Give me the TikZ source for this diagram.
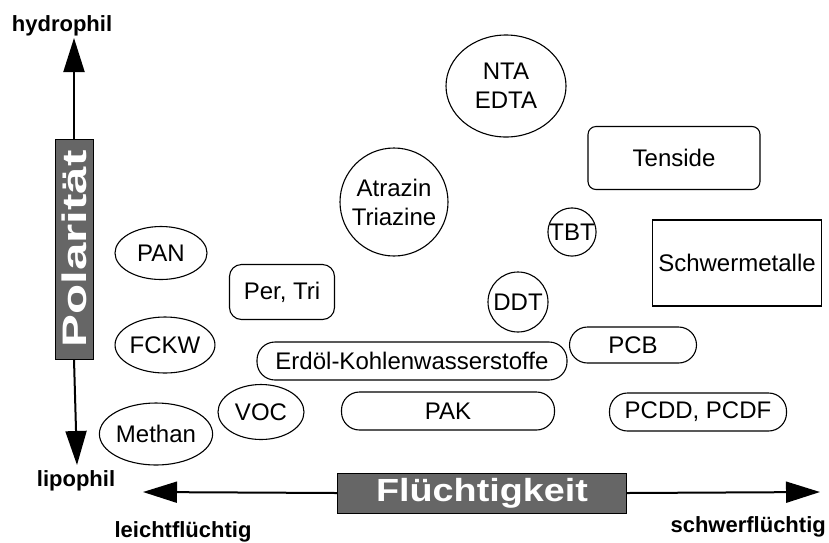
\documentclass[tikz,border=0pt]{standalone}
\usepackage{fontspec}
\setmainfont{Liberation Sans}
\usetikzlibrary{shapes.geometric, arrows.meta, positioning}
\tikzset{
        oval/.style = {draw, ellipse, line width=1.1pt, inner sep=0pt},
        pill/.style = {draw, rectangle, rounded corners=18pt, line width=1.1pt, inner sep=0pt},
        roundbox/.style = {draw, rectangle, rounded corners=12pt, line width=1.1pt, inner sep=0pt},
        plainbox/.style = {draw, rectangle, line width=1.1pt, inner sep=0pt},
        ring/.style = {draw, circle, line width=1.1pt, inner sep=0pt},
        axisbox/.style = {draw, rectangle, fill=black!60, text=white, line width=1pt, inner sep=0pt,
            font=\fontsize{32}{34}\selectfont\bfseries},
        axislabel/.style = {font=\fontsize{22}{24}\selectfont\bfseries, inner sep=0pt},
        bigarrow/.style = {draw, line width=2pt, -{Triangle[length=34pt, width=21pt]}},
}

\begin{document}
\begin{tikzpicture}[x=1pt, y=-1pt, font=\fontsize{24}{29}\selectfont]
\useasboundingbox (0,0) rectangle (829,542);
% axes
\node [axisbox, minimum width=38pt, minimum height=220pt] (polbox) at (74,249) {};
\node [rotate=90, text=white, font=\fontsize{34}{36}\selectfont\bfseries, inner sep=0pt] (poltext) at (polbox.center) {\scalebox{1.45}[1]{Polarität}};
\coordinate (ytop) at (74,38);
\coordinate (ybot) at (77,465);
\draw [bigarrow] (polbox.north) -- (ytop);
\draw [bigarrow] (polbox.south) -- (ybot);
\node [axislabel] (hydro) at (62,26) {hydrophil};
\node [axislabel] (lipo) at (76,481) {lipophil};

\node [axisbox, minimum width=289pt, minimum height=40pt] (fluebox) at (482,493) {\scalebox{1.18}[1]{Flüchtigkeit}};
\coordinate (xleft) at (143,492);
\coordinate (xright) at (820,492);
\draw [bigarrow] (fluebox.west) -- (xleft);
\draw [bigarrow] (fluebox.east) -- (xright);
\node [axislabel] (leicht) at (183,532) {leichtflüchtig};
\node [axislabel, anchor=east] (schwer) at (826,527) {schwerflüchtig};

% substances
\node [oval, minimum width=92pt, minimum height=53pt] (pan) at (161,253) {PAN};
\node [oval, minimum width=90pt, minimum height=56pt] (fckw) at (165,345) {FCKW};
\node [oval, minimum width=98pt, minimum height=62pt] (methan) at (156,434) {Methan};
\node [oval, minimum width=86pt, minimum height=55pt] (voc) at (261,412) {VOC};
\node [roundbox, minimum width=105pt, minimum height=55pt] (pertri) at (282,292) {Per, Tri};
\node [pill, minimum width=310pt, minimum height=38pt] (erdoel) at (412,361) {Erdöl-Kohlenwasserstoffe};
\node [pill, minimum width=213pt, minimum height=38pt] (pak) at (448,411) {PAK};
\node [pill, minimum width=127pt, minimum height=36pt] (pcb) at (633,345) {PCB};
\node [pill, minimum width=177pt, minimum height=38pt] (pcdd) at (698,412) {PCDD, PCDF};
\node [ring, minimum size=60pt] (ddt) at (518,302) {DDT};
\node [ring, minimum size=48pt] (tbt) at (572,232) {TBT};
\node [ring, minimum size=108pt, align=center] (atrazin) at (394,202) {Atrazin\\Triazine};
\node [oval, minimum width=120pt, minimum height=102pt, align=center] (nta) at (506,86) {NTA\\EDTA};
\node [roundbox, rounded corners=8pt, minimum width=172pt, minimum height=63pt] (tenside) at (674,158) {Tenside};
\node [plainbox, minimum width=169pt, minimum height=86pt] (schwermet) at (737,263) {Schwermetalle};
\end{tikzpicture}
\end{document}
